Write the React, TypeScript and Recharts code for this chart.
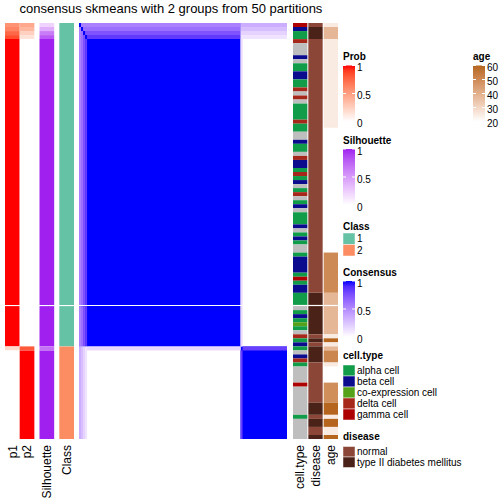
import React from 'react';
import { ComposedChart, XAxis, YAxis, ReferenceArea, Scatter } from 'recharts';

const FONT = '"Liberation Sans", Arial, Helvetica, sans-serif';

const title = 'consensus skmeans with 2 groups from 50 partitions';

// samples (rows) top to bottom; a white gap separates row 69 from row 70
const rowCount = 103;
const sliceBreak = 70;
const GAP = 0.3;

// [value, number of consecutive rows]
const p1Rows: [number, number][] = [[0.55, 1], [0.62, 1], [0.75, 1], [0.85, 1], [1, 76], [0.2, 1], [0, 22]];
const p2Rows: [number, number][] = [[0.45, 1], [0.38, 1], [0.25, 1], [0.15, 1], [0, 76], [0.8, 1], [1, 22]];
const silhouetteRows: [number, number][] = [[0.22, 1], [0.4, 1], [0.65, 1], [0.8, 1], [1, 76], [0.7, 1], [1, 22]];
const classRows: [string, number][] = [['1', 80], ['2', 23]];

// A alpha, B beta, C co-expression, D delta, G gamma, N missing
const cellTypeRows: [string, number][] = [
  ['G', 1], ['B', 1], ['A', 2], ['D', 1], ['N', 3], ['B', 1], ['N', 1], ['A', 2], ['B', 2], ['A', 2],
  ['D', 1], ['N', 1], ['D', 1], ['N', 1], ['A', 4], ['D', 1], ['A', 2], ['N', 2], ['B', 1], ['A', 2],
  ['N', 1], ['D', 1], ['B', 2], ['A', 1], ['D', 1], ['A', 1], ['B', 1], ['N', 1], ['A', 1], ['D', 1],
  ['N', 1], ['A', 1], ['B', 1], ['N', 1], ['A', 3], ['B', 1], ['N', 1], ['A', 1], ['B', 1], ['A', 1],
  ['N', 2], ['A', 1], ['B', 4], ['A', 1], ['G', 1], ['A', 1], ['B', 2], ['A', 3],
  ['N', 1], ['A', 1], ['B', 1], ['A', 1], ['C', 1], ['A', 1], ['N', 1], ['D', 1], ['A', 1], ['B', 1],
  ['A', 1], ['N', 1], ['B', 1], ['D', 1], ['A', 1], ['N', 4], ['G', 1], ['N', 7], ['A', 1], ['N', 5],
];

// N normal, T type II diabetes mellitus
const diseaseRows: [string, number][] = [
  ['N', 1], ['T', 3], ['N', 63], ['T', 10], ['N', 1], ['T', 1], ['N', 1],
  ['T', 4], ['N', 10], ['T', 3], ['N', 1], ['T', 2], ['N', 2], ['T', 1],
];

// null = missing
const ageRows: [number | null, number][] = [
  [25, 1], [38, 3], [25, 22], [null, 31], [50, 10], [38, 10], [25, 1], [60, 1], [25, 1],
  [38, 1], [51, 3], [25, 1], [null, 4], [49, 5], [60, 3], [25, 1], [60, 2], [25, 2], [60, 1],
];

// consensus matrix, painted in order: [rowFrom, rowTo, colFrom, colTo, value]
const consensusBlocks: [number, number, number, number, number][] = [
  [0, 80, 0, 80, 1],
  [80, 103, 80, 103, 1],
  [0, 1, 1, 80, 0.55], [1, 80, 0, 1, 0.55],
  [1, 2, 2, 80, 0.62], [2, 80, 1, 2, 0.62],
  [2, 3, 3, 80, 0.75], [3, 80, 2, 3, 0.75],
  [3, 4, 4, 80, 0.85], [4, 80, 3, 4, 0.85],
  [0, 1, 80, 103, 0.35], [80, 103, 0, 1, 0.35],
  [1, 2, 80, 103, 0.28], [80, 103, 1, 2, 0.28],
  [2, 3, 80, 103, 0.19], [80, 103, 2, 3, 0.19],
  [3, 4, 80, 103, 0.12], [80, 103, 3, 4, 0.12],
  [4, 80, 80, 81, 0.16], [80, 81, 4, 80, 0.16],
  [80, 81, 81, 103, 0.83], [81, 103, 80, 81, 0.83],
];

const classColors: Record<string, string> = { '1': '#66C2A5', '2': '#FC8D62' };
const cellTypeColors: Record<string, string> = {
  A: '#119C4A', B: '#0B0B8E', C: '#55A11A', D: '#A6281A', G: '#AE0202', N: '#BEBEBE',
};
const diseaseColors: Record<string, string> = { N: '#8C4637', T: '#4A2218' };
const cellTypeLegend: [string, string][] = [
  ['A', 'alpha cell'], ['B', 'beta cell'], ['C', 'co-expression cell'], ['D', 'delta cell'], ['G', 'gamma cell'],
];
const diseaseLegend: [string, string][] = [['N', 'normal'], ['T', 'type II diabetes mellitus']];

// ---- colour ramps interpolated in LAB, like colorRamp2 ----
const WP = [0.95047, 1, 1.08883];
const lin = (c: number) => { c /= 255; return c <= 0.04045 ? c / 12.92 : Math.pow((c + 0.055) / 1.055, 2.4); };
const gam = (c: number) => {
  const v = c <= 0.0031308 ? 12.92 * c : 1.055 * Math.pow(c, 1 / 2.4) - 0.055;
  return Math.round(Math.min(1, Math.max(0, v)) * 255);
};
const f = (t: number) => (t > 0.008856 ? Math.cbrt(t) : 7.787 * t + 16 / 116);
const fi = (t: number) => (t > 0.206893 ? t * t * t : (t - 16 / 116) / 7.787);
function toLab(hex: string) {
  const [r, g, b] = [1, 3, 5].map((i) => lin(parseInt(hex.slice(i, i + 2), 16)));
  const x = (0.4124 * r + 0.3576 * g + 0.1805 * b) / WP[0];
  const y = (0.2126 * r + 0.7152 * g + 0.0722 * b) / WP[1];
  const z = (0.0193 * r + 0.1192 * g + 0.9505 * b) / WP[2];
  return [116 * f(y) - 16, 500 * (f(x) - f(y)), 200 * (f(y) - f(z))];
}
function fromLab([L, A, B]: number[]) {
  const fy = (L + 16) / 116;
  const x = fi(fy + A / 500) * WP[0];
  const y = fi(fy) * WP[1];
  const z = fi(fy - B / 200) * WP[2];
  const rgb = [
    3.2406 * x - 1.5372 * y - 0.4986 * z,
    -0.9689 * x + 1.8758 * y + 0.0415 * z,
    0.0557 * x - 0.204 * y + 1.057 * z,
  ];
  return '#' + rgb.map((c) => gam(c).toString(16).padStart(2, '0')).join('');
}
function ramp(lo: number, hi: number, c0: string, c1: string) {
  const a = toLab(c0);
  const b = toLab(c1);
  return (v: number) => {
    const t = Math.min(1, Math.max(0, (v - lo) / (hi - lo)));
    return fromLab(a.map((x, i) => x + (b[i] - x) * t));
  };
}
const probColor = ramp(0, 1, '#FFFFFF', '#FF0000');
const silColor = ramp(0, 1, '#FFFFFF', '#A020F0');
const consColor = ramp(0, 1, '#FFFFFF', '#0000FF');
const ageColor = ramp(20, 60, '#FFFFFF', '#B5651D');

// ---- row -> y (in row units) with the slice gap ----
const yMax = rowCount + GAP;
const yOf = (r: number) => r + (r >= sliceBreak ? GAP : 0);
function rowPieces(r0: number, r1: number): [number, number][] {
  const pieces: [number, number][] = r0 < sliceBreak && r1 > sliceBreak ? [[r0, sliceBreak], [sliceBreak, r1]] : [[r0, r1]];
  return pieces.map(([a, b]) => [yOf(a), yOf(a) + b - a]);
}

type Rect = { x1: number; x2: number; y1: number; y2: number; fill: string };

function trackRects<T>(rows: [T, number][], x1: number, x2: number, color: (v: T) => string | null): Rect[] {
  let r = 0;
  return rows.flatMap(([value, n]) => {
    const pieces = rowPieces(r, r + n);
    r += n;
    const fill = color(value);
    return fill ? pieces.map(([y1, y2]) => ({ x1, x2, y1, y2, fill })) : [];
  });
}

const leftRects: Rect[] = [
  ...trackRects(p1Rows, 0, 1, probColor),
  ...trackRects(p2Rows, 1, 2, probColor),
  ...trackRects(silhouetteRows, 2.35, 3.35, silColor),
  ...trackRects(classRows, 3.7, 4.7, (v) => classColors[v]),
];
const rightRects: Rect[] = [
  ...trackRects(cellTypeRows, 0, 1, (v) => cellTypeColors[v]),
  ...trackRects(diseaseRows, 1.07, 2.07, (v) => diseaseColors[v]),
  ...trackRects(ageRows, 2.14, 3.14, (v) => (v == null ? null : ageColor(v))),
];
const consensusRects: Rect[] = consensusBlocks.flatMap(([r0, r1, c0, c1, v]) =>
  rowPieces(r0, r1).map(([y1, y2]) => ({ x1: c0, x2: c1, y1, y2, fill: consColor(v) })),
);

const TrackLabel = (props: any) => {
  const { x, y, payload, ticks, labels } = props;
  const i = ticks.indexOf(payload.value);
  return (
    <text
      x={0}
      y={0}
      transform={`translate(${x + 4.3},${y}) rotate(-90)`}
      textAnchor="end"
      fontSize={12}
      fontFamily={FONT}
      fill="#000"
    >
      {labels[i]}
    </text>
  );
};

const NoMark = () => <g />;

function HeatPanel({ left, width, xMax, rects, ticks, labels }: {
  left: number; width: number; xMax: number; rects: Rect[]; ticks?: number[]; labels?: string[];
}) {
  const labelled = !!labels;
  // cell centres, so the chart has a series to lay its axes out from
  const centres = rects.map((r) => ({ x: (r.x1 + r.x2) / 2, y: (r.y1 + r.y2) / 2 }));
  return (
    <div style={{ position: 'absolute', left, top: 0 }}>
      <ComposedChart width={width} height={504} margin={{ top: 23, right: 0, bottom: labelled ? 0 : 65, left: 0 }}>
        <XAxis
          type="number"
          dataKey="x"
          domain={[0, xMax]}
          allowDataOverflow
          hide={!labelled}
          ticks={ticks}
          interval={0}
          axisLine={false}
          tickLine={false}
          tickSize={0}
          tickMargin={6}
          height={65}
          tick={<TrackLabel ticks={ticks} labels={labels} />}
        />
        <YAxis type="number" dataKey="y" domain={[0, yMax]} reversed hide allowDataOverflow />
        {rects.map((r, i) => (
          <ReferenceArea
            key={i}
            x1={r.x1}
            x2={r.x2}
            y1={r.y1}
            y2={r.y2}
            fill={r.fill}
            fillOpacity={1}
            stroke="none"
            ifOverflow="visible"
          />
        ))}
        <Scatter data={centres} dataKey="y" shape={NoMark} isAnimationActive={false} />
      </ComposedChart>
    </div>
  );
}

function GradientLegend({ id, x, ty, name, color, lo, hi, labels }: {
  id: string; x: number; ty: number; name: string; color: (v: number) => string; lo: number; hi: number; labels: number[];
}) {
  const top = ty + 5.5;
  const h = 56;
  const stops = Array.from({ length: 11 }, (_, k) => k / 10);
  return (
    <g>
      <defs>
        <linearGradient id={id} x1="0" y1="0" x2="0" y2="1">
          {stops.map((s) => (
            <stop key={s} offset={s} stopColor={color(hi - s * (hi - lo))} />
          ))}
        </linearGradient>
      </defs>
      <text x={x} y={ty} fontSize={10} fontWeight="bold" fontFamily={FONT}>{name}</text>
      <rect x={x} y={top} width={12} height={h} fill={`url(#${id})`} />
      {labels.map((v) => {
        const yy = top + ((hi - v) / (hi - lo)) * h;
        return (
          <g key={v}>
            <line x1={x} x2={x + 3} y1={yy} y2={yy} stroke="#fff" strokeWidth={1} />
            <line x1={x + 9} x2={x + 12} y1={yy} y2={yy} stroke="#fff" strokeWidth={1} />
            <text x={x + 14} y={yy + 2} fontSize={10} fontFamily={FONT} dominantBaseline="central">{v}</text>
          </g>
        );
      })}
    </g>
  );
}

function SwatchLegend({ x, ty, name, items, colors, h, gap = 6.5 }: {
  x: number; ty: number; name: string; items: [string, string][]; colors: Record<string, string>; h: number; gap?: number;
}) {
  const top = ty + gap;
  return (
    <g>
      <text x={x} y={ty} fontSize={10} fontWeight="bold" fontFamily={FONT}>{name}</text>
      {items.map(([k, label], i) => (
        <g key={k}>
          <rect x={x} y={top + i * h} width={12} height={h} fill={colors[k]} stroke="#ffffff" strokeOpacity={0.6} strokeWidth={0.8} />
          <text x={x + 14} y={top + i * h + h / 2} fontSize={10} fontFamily={FONT} dominantBaseline="central">{label}</text>
        </g>
      ))}
    </g>
  );
}

export default function App() {
  return (
    <div style={{ position: 'absolute', left: 0, top: 0, width: 504, height: 504, background: '#fff' }}>
      <HeatPanel
        left={5}
        width={69}
        xMax={4.7}
        rects={leftRects}
        ticks={[0.5, 1.5, 2.85, 4.2]}
        labels={['p1', 'p2', 'Silhouette', 'Class']}
      />
      <HeatPanel left={79} width={208} xMax={rowCount} rects={consensusRects} />
      <HeatPanel
        left={293}
        width={45}
        xMax={3.14}
        rects={rightRects}
        ticks={[0.5, 1.57, 2.64]}
        labels={['cell.type', 'disease', 'age']}
      />
      <svg width={504} height={504} style={{ position: 'absolute', left: 0, top: 0, pointerEvents: 'none' }}>
        <text x={171} y={13} fontSize={13} fontFamily={FONT} textAnchor="middle">{title}</text>
        <GradientLegend id="g-prob" x={343} ty={60} name="Prob" color={probColor} lo={0} hi={1} labels={[1, 0.5, 0]} />
        <GradientLegend id="g-age" x={473} ty={60} name="age" color={ageColor} lo={20} hi={60} labels={[60, 50, 40, 30, 20]} />
        <GradientLegend id="g-sil" x={343} ty={143.5} name="Silhouette" color={silColor} lo={0} hi={1} labels={[1, 0.5, 0]} />
        <SwatchLegend x={343} ty={229.5} gap={3.5} name="Class" items={[['1', '1'], ['2', '2']]} colors={classColors} h={11.5} />
        <GradientLegend id="g-cons" x={343} ty={275.5} name="Consensus" color={consColor} lo={0} hi={1} labels={[1, 0.5, 0]} />
        <SwatchLegend x={343} ty={358.5} name="cell.type" items={cellTypeLegend} colors={cellTypeColors} h={11} />
        <SwatchLegend x={343} ty={440} name="disease" items={diseaseLegend} colors={diseaseColors} h={10.5} />
      </svg>
    </div>
  );
}
